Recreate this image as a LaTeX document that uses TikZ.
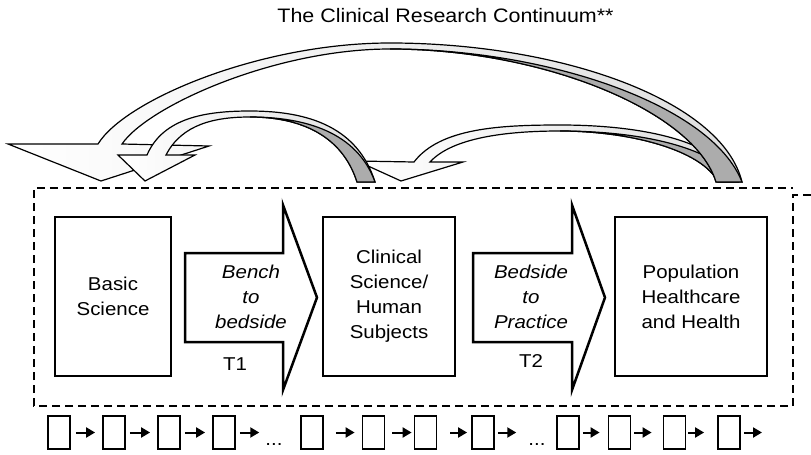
\documentclass[tikz,border=0pt]{standalone}
\usepackage{fontspec}
\setmainfont{Liberation Sans}[FakeStretch=1.1]
\usetikzlibrary{arrows.meta}

\begin{document}
\begin{tikzpicture}[x=1pt,y=-1pt,
    txt/.style={font=\fontsize{18.6}{25}\selectfont, align=center, inner sep=0pt},
    slant/.style={font=\fontsize{18.6}{25}\selectfont\itshape, align=center, inner sep=0pt},
    stage/.style={txt, draw, line width=2.5pt, minimum width=#1, minimum height=159pt},
    fat/.style={draw, line width=2.5pt, line join=miter, fill=white},
    frame/.style={draw, line width=2pt, dash pattern=on 8pt off 5pt},
    step box/.style={draw, line width=1.8pt, minimum width=22pt, minimum height=33pt, inner sep=0pt},
    loop/.style={draw, line width=1.2pt, line join=miter, left color=white, right color=gray!25},
    back/.style={draw, line width=1.2pt, fill=gray!65}]
  \useasboundingbox (0,0) rectangle (811,455);

  \node[txt, font=\fontsize{19.5}{24}\selectfont, anchor=base] (title) at (445.5,23) {The Clinical Research Continuum**};

  % return loops, back to front
  \shadedraw[loop] (357,161) -- (414,162)
    .. controls (440,128) and (500,125) .. (560,125)
    .. controls (640,125) and (718,140) .. (738,182) -- (718,182)
    .. controls (702,150) and (630,131) .. (560,131)
    .. controls (505,131) and (452,138) .. (430,162)
    -- (463,162) -- (401,181) -- cycle;
  \draw[back] (560,131) .. controls (635,131) and (712,145) .. (738,182) -- (718,182)
    .. controls (702,150) and (630,131) .. (560,131) -- cycle;

  \shadedraw[loop] (8,144) -- (98,144)
    .. controls (125,100) and (260,43) .. (390,43)
    .. controls (560,43) and (722,100) .. (742,182) -- (716,182)
    .. controls (695,112) and (545,49) .. (390,49)
    .. controls (275,49) and (148,106) .. (122,144)
    -- (209,146) -- (101,181) -- cycle;
  \draw[back] (390,49) .. controls (548,49) and (712,105) .. (742,182) -- (716,182)
    .. controls (695,112) and (545,49) .. (390,49) -- cycle;

  \shadedraw[loop] (118,155) -- (147,155)
    .. controls (163,118) and (205,111) .. (250,111)
    .. controls (310,111) and (358,128) .. (375,182) -- (357,182)
    .. controls (342,135) and (300,117) .. (250,117)
    .. controls (215,117) and (182,124) .. (166,155)
    -- (195,155) -- (145,181) -- cycle;
  \draw[back] (250,117) .. controls (305,117) and (357,132) .. (375,182) -- (357,182)
    .. controls (342,135) and (300,117) .. (250,117) -- cycle;

  % the frame round the three stages
  \draw[frame] (811,195) -- (793,195) -- (793,406) -- (34,406) -- (34,188) -- (793,188);

  \node[stage=116pt] (basic) at (113,296.5) {Basic\\Science};
  \node[stage=132pt] (clinic) at (389,296.5) {Clinical\\Science/\\Human\\Subjects};
  \node[stage=152pt] (popu) at (691,296.5) {Population\\Healthcare\\and Health};

  \draw[fat] (185,253) -- (283,253) -- (283,205) -- (317,297.5) -- (283,390) -- (283,342) -- (185,342) -- cycle;
  \draw[fat] (473,253) -- (572,253) -- (572,205) -- (605,297.5) -- (572,390) -- (572,342) -- (473,342) -- cycle;
  \node[slant] (bench) at (251,297) {Bench\\to\\bedside};
  \node[slant] (bedside) at (531,297) {Bedside\\to\\Practice};
  \node[txt, anchor=base] (t1) at (235,370) {T1};
  \node[txt, anchor=base] (t2) at (531,367) {T2};

  % row of small steps
  \node[step box] (s1) at (59,432.5) {};
  \node[step box] (s2) at (114,432.5) {};
  \node[step box] (s3) at (169,432.5) {};
  \node[step box] (s4) at (224,432.5) {};
  \node[txt, anchor=base] (d1) at (274,445) {...};
  \node[step box] (s5) at (312,432.5) {};
  \node[step box] (s6) at (373.5,432.5) {};
  \node[step box] (s7) at (425.5,432.5) {};
  \node[step box] (s8) at (483,432.5) {};
  \node[txt, anchor=base] (d2) at (537,445) {...};
  \node[step box] (s9) at (568,432.5) {};
  \node[step box] (s10) at (619.5,432.5) {};
  \node[step box] (s11) at (674.5,432.5) {};
  \node[step box] (s12) at (729,432.5) {};
  \coordinate (e) at (762,432.5);
  \begin{scope}[line width=2pt, -{Triangle[length=9pt,width=10pt]}]
    \draw[shorten <=5pt, shorten >=7pt] (s1) -- (s2);
    \draw[shorten <=4pt, shorten >=7pt] (s2) -- (s3);
    \draw[shorten <=4pt, shorten >=7pt] (s3) -- (s4);
    \draw[shorten <=4pt, shorten >=6pt] (s4) -- (d1.west |- s4);
    \draw[shorten <=12pt, shorten >=7pt] (s5) -- (s6);
    \draw[shorten <=7pt, shorten >=2pt] (s6) -- (s7);
    \draw[shorten <=13pt, shorten >=4pt] (s7) -- (s8);
    \draw[shorten <=3pt, shorten >=12pt] (s8) -- (d2.west |- s8);
    \draw[shorten <=3pt, shorten >=8pt] (s9) -- (s10);
    \draw[shorten <=3pt, shorten >=11pt] (s10) -- (s11);
    \draw[shorten <=2pt, shorten >=13pt] (s11) -- (s12);
    \draw[shorten <=3pt] (s12) -- (e);
  \end{scope}
\end{tikzpicture}
\end{document}
